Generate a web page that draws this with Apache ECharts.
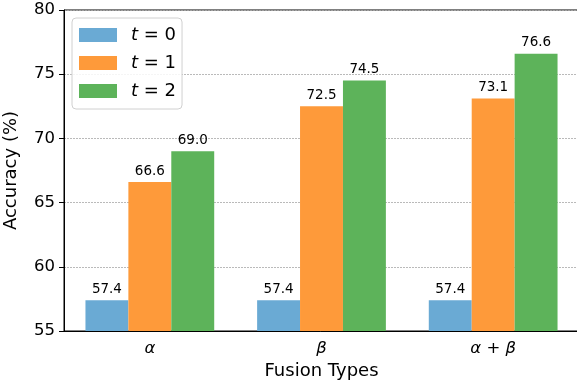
<!DOCTYPE html>
<html><head><meta charset="utf-8">
<script src="https://cdn.jsdelivr.net/npm/echarts@6/dist/echarts.min.js"></script>
<style>html,body{margin:0;padding:0;background:#fff}#c{width:577px;height:381px}</style>
</head><body><div id="c"></div>
<script>
const categories = ['α', 'β', 'α + β'];
const seriesNames = ['t = 0', 't = 1', 't = 2'];
const t0 = [57.4, 57.4, 57.4];
const t1 = [66.6, 72.5, 73.1];
const t2 = [69.0, 74.5, 76.6];
const colors = ['#6aaad4', '#fe9a3a', '#5db35a'];
const values = [t0, t1, t2];

const FONT = 'DejaVu Sans';
const chart = echarts.init(document.getElementById('c'), null, {renderer: 'canvas'});
chart.setOption({
  animation: false,
  textStyle: {fontFamily: FONT},
  grid: {left: 64, top: 10, width: 515, height: 321, show: true, borderColor: '#000', borderWidth: 1,
         backgroundColor: 'transparent', containLabel: false, outerBoundsMode: 'none'},
  legend: {
    left: 72, top: 18, orient: 'vertical',
    itemWidth: 38, itemHeight: 14, itemGap: 10,
    padding: [8, 6, 9, 7],
    backgroundColor: 'rgba(255,255,255,0.85)',
    borderColor: '#d0d0d0', borderWidth: 1, borderRadius: 4,
    icon: 'rect',
    data: seriesNames,
    formatter: function (n) { return '{i|t}{n| = ' + n.slice(4) + '}'; },
    textStyle: {
      color: '#000', fontSize: 18, padding: [0, 0, 0, 9],
      rich: {
        i: {fontFamily: FONT, fontStyle: 'italic', fontSize: 18, color: '#000', lineHeight: 21},
        n: {fontFamily: FONT, fontSize: 18, color: '#000', lineHeight: 21}
      }
    }
  },
  xAxis: {
    type: 'category', data: categories,
    name: 'Fusion Types', nameLocation: 'middle', nameGap: 30,
    nameTextStyle: {fontSize: 18, color: '#000', fontFamily: FONT},
    axisLine: {lineStyle: {color: '#000', width: 1}},
    axisTick: {alignWithLabel: true, length: 5, lineStyle: {color: '#000'}},
    axisLabel: {fontSize: 16.5, color: '#000', fontStyle: 'italic', fontFamily: FONT, margin: 9}
  },
  yAxis: {
    type: 'value', min: 55, max: 80, interval: 5,
    name: 'Accuracy (%)', nameLocation: 'middle', nameGap: 44,
    nameTextStyle: {fontSize: 18, color: '#000', fontFamily: FONT},
    axisLine: {show: true, lineStyle: {color: '#000', width: 1}},
    axisTick: {show: true, length: 5, lineStyle: {color: '#000'}},
    axisLabel: {fontSize: 16.5, color: '#000', margin: 9, fontFamily: FONT},
    splitLine: {show: true, lineStyle: {color: '#a8a8a8', type: [2, 1], width: 0.8}}
  },
  series: values.map((v, i) => ({
    name: seriesNames[i], type: 'bar', data: v,
    barWidth: '25%', barGap: '0%',
    itemStyle: {color: colors[i]},
    label: {show: true, position: 'top', distance: 4, fontSize: 13.5, color: '#000', fontFamily: FONT,
            formatter: p => p.value.toFixed(1)}
  }))
});
</script></body></html>
